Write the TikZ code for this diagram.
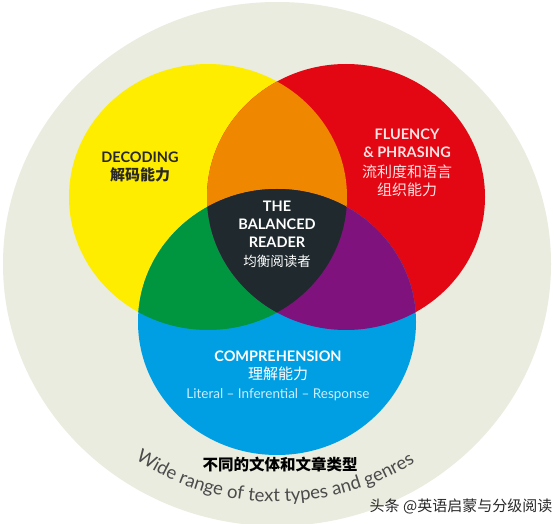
\documentclass[tikz,border=0pt]{standalone}
\usepackage{fontspec}
\setmainfont{Lato}
\newfontfamily\cjk{Noto Sans CJK SC}
\usetikzlibrary{positioning,calc,decorations.text}
\definecolor{bgbeige}{RGB}{233,236,222}
\definecolor{decyellow}{RGB}{255,237,0}
\definecolor{flured}{RGB}{227,6,19}
\definecolor{compblue}{RGB}{0,159,227}
\definecolor{mixorange}{RGB}{240,135,0}
\definecolor{mixgreen}{RGB}{0,150,64}
\definecolor{mixpurple}{RGB}{128,18,126}
\definecolor{mixdark}{RGB}{32,42,46}
\definecolor{darktext}{RGB}{40,40,40}
\definecolor{pinktext}{RGB}{252,228,228}
\definecolor{lightblue}{RGB}{205,236,250}
\definecolor{arcgrey}{RGB}{75,75,75}
\tikzset{
  vennr/.style={x radius=139pt,y radius=133pt},
  head/.style={align=center,font=\bfseries\fontsize{14.5}{18}\selectfont},
}
\newcommand{\cn}[1]{{\cjk\mdseries\fontsize{15}{19}\selectfont #1}}

\begin{document}
\begin{tikzpicture}[x=1pt,y=1pt]
\useasboundingbox (0,0) rectangle (554,523);
\coordinate (ctr) at (277,259);
\coordinate (yc) at (208,326);
\coordinate (rc) at (346,326);
\coordinate (bc) at (277,201);
% background disc and the three circles
\fill[bgbeige] (ctr) ellipse[x radius=274pt,y radius=262pt];
\fill[decyellow] (yc) ellipse[vennr];
\fill[flured] (rc) ellipse[vennr];
\fill[compblue] (bc) ellipse[vennr];
% overlaps
\begin{scope}
\clip (yc) ellipse[vennr];
\fill[mixorange] (rc) ellipse[vennr];
\fill[mixgreen] (bc) ellipse[vennr];
\end{scope}
\begin{scope}
\clip (rc) ellipse[vennr];
\fill[mixpurple] (bc) ellipse[vennr];
\end{scope}
\begin{scope}
\clip (yc) ellipse[vennr];
\clip (rc) ellipse[vennr];
\fill[mixdark] (bc) ellipse[vennr];
\end{scope}
% labels
\node[head,text=darktext] (decoding) at (140,356) {DECODING\\{\cjk\bfseries\fontsize{15}{19}\selectfont 解码能力}};
\node[head,text=pinktext] (fluency) at (407,360) {FLUENCY\\\& PHRASING\\[2pt]\cn{流利度和语言}\\\cn{组织能力}};
\node[head,text=white] (reader) at (277,289) {THE\\BALANCED\\READER\\[1pt]{\cjk\mdseries\fontsize{13.5}{17}\selectfont 均衡阅读者}};
\node[head,text=white] (comp) at (278,147) {COMPREHENSION\\\cn{理解能力}\\[1pt]{\mdseries\color{lightblue}\fontsize{13.5}{16}\selectfont Literal -- Inferential -- Response}};
% outer ring text
\node[font=\cjk\bfseries\fontsize{15.5}{16}\selectfont,text=black] (genrecn) at (280,58) {不同的文体和文章类型};
\path[decorate,decoration={text along path,text align=center,text color=arcgrey,
  text={|\fontsize{18.5}{18}\selectfont|Wide range of text types and genres}}]
  ($(ctr)+(-128:249pt and 238pt)$) arc[start angle=-128,end angle=-53,x radius=249pt,y radius=238pt];
\node[font=\cjk\fontsize{15}{15}\selectfont,text=darktext] (mark) at (461,17) {头条 @英语启蒙与分级阅读};
\end{tikzpicture}
\end{document}
